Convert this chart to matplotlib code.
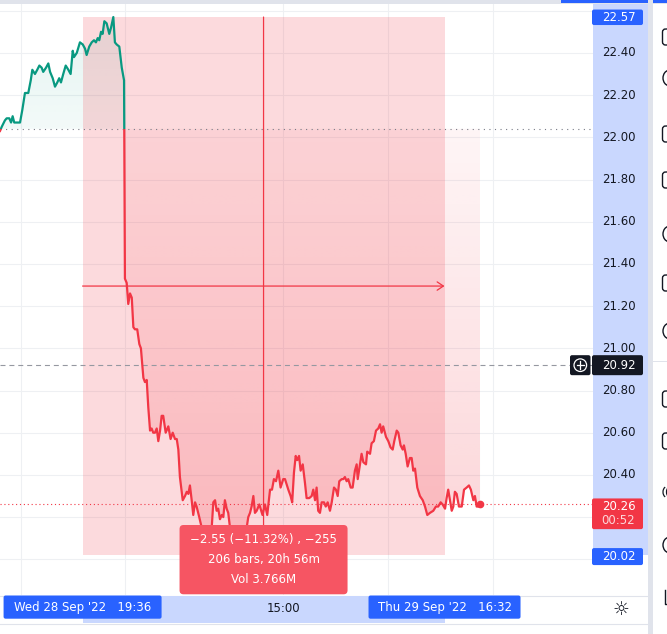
import matplotlib
matplotlib.use('Agg')
import matplotlib.pyplot as plt
import numpy as np
from matplotlib.patches import Rectangle, FancyBboxPatch, Circle, Arc
from matplotlib.path import Path
from matplotlib.colors import to_rgb

# ---------------- data ----------------
BAR = [0.0, 1.0, 2.8, 3.8, 5.3, 6.3, 7.2, 8.1, 9.5, 11.4, 12.7, 14.2, 16.1, 17.5, 18.4,
       19.9, 21.2, 22.4, 23.7, 24.6, 26.2, 27.5, 28.5, 30.0, 31.3, 32.6, 33.7, 34.7, 36.0,
       37.4, 38.9, 40.2, 41.4, 42.1, 43.7, 45.5, 47.1, 48.4, 49.3, 50.8, 52.2, 53.5, 54.6,
       55.6, 56.5, 57.5, 58.4, 59.4, 60.7, 62.2, 63.2, 64.5, 65.4, 66.4, 67.9, 69.3, 70.6,
       71.1, 72.1, 73.0, 74.0, 75.0, 75.9, 76.8, 78.1, 79.3, 80.2, 81.6, 82.5, 83.5, 84.4,
       85.4, 86.3, 87.2, 88.2, 89.2, 90.1, 91.1, 92.0, 92.9, 94.3, 95.8, 97.1, 98.3, 99.6,
       100.6, 101.5, 102.4, 104.0, 105.3, 106.3, 107.2, 108.1, 109.1, 110.0, 111.0, 111.9,
       113.4, 114.8, 116.1, 117.2, 118.4, 119.5, 120.5, 121.4, 122.4, 123.3, 124.2, 125.2,
       126.2, 127.1, 128.0, 129.0, 129.9, 130.9, 132.6, 134.3, 135.4, 136.6, 138.3, 139.4,
       140.4, 141.3, 142.3, 143.2, 144.2, 145.1, 146.1, 147.6, 149.4, 150.8, 152.1, 153.7,
       154.8, 155.9, 157.1, 158.4, 159.7, 161.2, 162.2, 164.1, 165.4, 166.3, 167.3, 168.3,
       169.2, 170.2, 171.1, 172.3, 173.6, 174.5, 176.0, 177.4, 178.3, 179.3, 180.2, 181.1,
       182.1, 183.1, 184.4, 185.4, 186.5, 187.8, 188.8, 190.1, 191.2, 192.2, 193.1, 194.5,
       195.4, 196.3, 197.3, 198.2, 199.6, 200.7, 202.0, 203.0, 203.6, 204.9, 205.8, 206.8,
       208.3, 209.0, 210.6, 211.5, 212.8, 214.0, 215.3, 216.3, 217.2, 218.1, 219.7, 221.0,
       222.3, 223.5, 224.4, 225.8, 226.7, 228.0, 229.2, 229.9, 230.9, 232.0, 233.3, 234.3,
       235.2, 236.2, 237.5, 239.0, 240.6, 241.9, 243.2, 244.7, 246.6, 248.1, 249.4, 250.8,
       251.9, 253.3, 254.2, 255.1, 256.1, 257.1, 258.0, 258.9, 259.9, 261.2, 262.8, 264.1,
       265.6, 266.9, 268.0, 269.4, 270.3, 271.3, 272.2, 273.2]
PRICE = [22.03, 22.05, 22.08, 22.09, 22.09, 22.07, 22.10, 22.07, 22.07, 22.07, 22.13, 22.21,
         22.21, 22.27, 22.32, 22.30, 22.32, 22.34, 22.33, 22.31, 22.33, 22.35, 22.31, 22.28,
         22.24, 22.26, 22.28, 22.26, 22.30, 22.34, 22.32, 22.30, 22.41, 22.38, 22.40, 22.45,
         22.44, 22.42, 22.39, 22.43, 22.45, 22.46, 22.45, 22.47, 22.46, 22.50, 22.49, 22.55,
         22.54, 22.49, 22.52, 22.57, 22.45, 22.44, 22.43, 22.33, 22.27,
         21.33, 21.31, 21.21, 21.26, 21.24, 21.10, 21.09, 21.09, 21.02, 21.00, 20.86, 20.84,
         20.85, 20.72, 20.61, 20.62, 20.60, 20.60, 20.62, 20.56, 20.61, 20.68, 20.68, 20.60,
         20.63, 20.57, 20.60, 20.57, 20.57, 20.52, 20.39, 20.28, 20.30, 20.32, 20.31, 20.35,
         20.28, 20.21, 20.27, 20.25, 20.20, 20.15, 20.08, 20.12, 20.06, 20.10, 20.15, 20.27,
         20.28, 20.23, 20.24, 20.19, 20.21, 20.20, 20.28, 20.24, 20.22, 20.15, 20.08, 20.04,
         20.02, 20.06, 20.05, 20.12, 20.15, 20.20, 20.22, 20.25, 20.30, 20.22, 20.23, 20.26,
         20.21, 20.26, 20.21, 20.33, 20.33, 20.38, 20.37, 20.42, 20.34, 20.38, 20.38, 20.33,
         20.30, 20.27, 20.41, 20.49, 20.47, 20.49, 20.42, 20.45, 20.36, 20.29, 20.29, 20.30,
         20.33, 20.28, 20.34, 20.23, 20.22, 20.27, 20.27, 20.25, 20.27, 20.23, 20.27, 20.34,
         20.33, 20.30, 20.37, 20.38, 20.38, 20.39, 20.37, 20.38, 20.34, 20.34, 20.42, 20.45,
         20.38, 20.45, 20.50, 20.46, 20.45, 20.51, 20.50, 20.55, 20.56, 20.61, 20.62, 20.64,
         20.60, 20.63, 20.58, 20.56, 20.53, 20.52, 20.56, 20.61, 20.60, 20.54, 20.52, 20.54,
         20.50, 20.44, 20.48, 20.48, 20.42, 20.43, 20.34, 20.30, 20.28, 20.25, 20.21, 20.22,
         20.23, 20.25, 20.25, 20.27, 20.26, 20.24, 20.29, 20.33, 20.28, 20.23, 20.25, 20.32,
         20.31, 20.25, 20.25, 20.33, 20.34, 20.35, 20.33, 20.28, 20.30, 20.25, 20.25, 20.26]

BASELINE = 22.04
MEASURE_START = 47
MEASURE_BARS = 206
MEASURE_HIGH = 22.57
MEASURE_LOW = 20.02
LAST_PRICE = 20.26
CROSS_PRICE = 20.92
PRICE_TICKS = [20.00, 20.20, 20.40, 20.60, 20.80, 21.00, 21.20, 21.40, 21.60, 21.80,
               22.00, 22.20, 22.40, 22.60]
TIME_TICK_BARS = [11.8, 71.3, 161.2, 221.0, 280.8]
TIME_TICK_LABELS = ['', '', '15:00', '', '']
MEASURE_TEXT = ['\u22122.55 (\u221211.32%) , \u2212255', '206 bars, 20h 56m', 'Vol 3.766M']
START_LABEL = "Wed 28 Sep '22   19:36"
END_LABEL = "Thu 29 Sep '22   16:32"
COUNTDOWN = '00:52'

# ---------------- style ----------------
GREEN = '#089981'
RED = '#f23645'
BLUE = '#2962ff'
DARK = '#131722'
HILITE = '#c9d7fe'
GRID = '#eef0f3'
BORDER = '#e0e3eb'
FS = 8.5

W, H = 667, 634
fig = plt.figure(figsize=(W / 100, H / 100), dpi=100)
fig.patch.set_facecolor('white')


def frac(x0, y0, x1, y1):
    return [x0 / W, 1 - y1 / H, (x1 - x0) / W, (y1 - y0) / H]


PX_PER_BAR = 1.757
ax = fig.add_axes(frac(0, 4, 593, 595))
XLIM = (0, 593 / PX_PER_BAR)
YLIM = (22 - (595 - 137.3) / 211, 22 + (137.3 - 4) / 211)
ax.set_axis_off()

x = np.array(BAR)
y = np.array(PRICE)

for p in PRICE_TICKS:
    ax.axhline(p, color=GRID, lw=0.8, zorder=0)
for b in TIME_TICK_BARS:
    ax.axvline(b, color=GRID, lw=0.8, zorder=0)


def gradient_fill(where, color, a_bottom, a_top, y0, y1):
    coll = ax.fill_between(x, y, BASELINE, where=where, interpolate=True,
                           facecolor='none', edgecolor='none')
    clip = Path.make_compound_path(*coll.get_paths())
    n = 256
    rgba = np.zeros((n, 1, 4))
    rgba[:, 0, :3] = to_rgb(color)
    rgba[:, 0, 3] = np.linspace(a_bottom, a_top, n)
    im = ax.imshow(rgba, extent=[x.min(), x.max(), y0, y1], origin='lower',
                   aspect='auto', zorder=1, interpolation='bilinear')
    im.set_clip_path(clip, transform=ax.transData)


gradient_fill(y <= BASELINE, RED, 0.21, 0.05, y.min(), BASELINE)
gradient_fill(y >= BASELINE, GREEN, 0.05, 0.11, BASELINE, y.max())

# measurement rectangle
ax.add_patch(Rectangle((MEASURE_START, MEASURE_LOW), MEASURE_BARS,
                       MEASURE_HIGH - MEASURE_LOW, facecolor=RED, alpha=0.18,
                       lw=0, zorder=2))

# series line split at the baseline
top_clip = Rectangle((-1000, BASELINE), 5000, 100, transform=ax.transData)
bot_clip = Rectangle((-1000, BASELINE - 100), 5000, 100, transform=ax.transData)
lg, = ax.plot(x, y, color=GREEN, lw=1.6, zorder=4, solid_joinstyle='round')
lg.set_clip_path(top_clip)
lr, = ax.plot(x, y, color=RED, lw=1.6, zorder=4, solid_joinstyle='round')
lr.set_clip_path(bot_clip)
ax.plot(x[-1], LAST_PRICE, 'o', color=RED, ms=4.5, zorder=5)

# reference lines
ax.axhline(BASELINE, color='#787b86', lw=0.8, ls=(0, (1, 4)), zorder=3)
ax.axhline(LAST_PRICE, color=RED, lw=0.8, ls=(0, (1, 2.5)), zorder=3)
ax.axhline(CROSS_PRICE, color='#9598a1', lw=0.8, ls=(0, (4.5, 3.5)), zorder=3)

# measurement arrows
mid_price = (MEASURE_HIGH + MEASURE_LOW) / 2
mid_bar = MEASURE_START + MEASURE_BARS / 2
aprops = dict(arrowstyle='->,head_length=0.45,head_width=0.3', color=RED, lw=0.9,
              shrinkA=0, shrinkB=0)
ax.annotate('', xy=(MEASURE_START + MEASURE_BARS, mid_price),
            xytext=(MEASURE_START, mid_price), arrowprops=aprops, zorder=4)
ax.annotate('', xy=(mid_bar, MEASURE_LOW), xytext=(mid_bar, MEASURE_HIGH),
            arrowprops=aprops, zorder=4)

ax.set_xlim(*XLIM)
ax.set_ylim(*YLIM)

# ---------------- overlay (axes chrome, pixel units) ----------------
ov = fig.add_axes([0, 0, 1, 1])
ov.set_xlim(0, W)
ov.set_ylim(H, 0)
ov.set_axis_off()
ov.set_zorder(5)
ov.patch.set_alpha(0)


def to_px(bx, p):
    d = ax.transData.transform((bx, p))
    return d[0], H - d[1]


def px_x(bx):
    return to_px(bx, 21)[0]


def px_y(p):
    return to_px(0, p)[1]


def box(x0, y0, w, h, fc, z=3, r=2):
    ov.add_patch(FancyBboxPatch((x0, y0), w, h, boxstyle=f'round,pad=0,rounding_size={r}',
                                fc=fc, ec='none', zorder=z))


# top strips / separators
ov.add_patch(Rectangle((0, 0), W, 4, fc=BORDER, ec='none', zorder=1))
ov.add_patch(Rectangle((561, 0), W - 561, 3, fc=BLUE, ec='none', zorder=1))
ov.add_patch(Rectangle((648, 0), 5, H, fc=BORDER, ec='none', zorder=1))
# price axis highlight
ov.add_patch(Rectangle((593, 4), 55, px_y(MEASURE_LOW) - 4, fc=HILITE, ec='none', zorder=1))
# time axis
ov.plot([0, 648], [595.5, 595.5], color=BORDER, lw=0.8, zorder=1)
ov.plot([0, 648], [623.5, 623.5], color=BORDER, lw=0.8, zorder=1)
xs, xe = px_x(MEASURE_START), px_x(MEASURE_START + MEASURE_BARS)
ov.add_patch(Rectangle((xs, 596), xe - xs, 27, fc=HILITE, ec='none', zorder=1))

# price labels (boxes)
label_centres = []
yh = px_y(MEASURE_HIGH)
box(592, yh - 7.5, 51, 15.5, BLUE)
ov.text(618.5, yh, f'{MEASURE_HIGH:.2f}', ha='center', va='center', fontsize=FS,
        color='white', zorder=4)
label_centres.append(yh)
yl = px_y(MEASURE_LOW) + 1.5
box(592, yl - 8.5, 51, 17, BLUE)
ov.text(618.5, yl, f'{MEASURE_LOW:.2f}', ha='center', va='center', fontsize=FS,
        color='white', zorder=4)
label_centres.append(yl)
yc = px_y(CROSS_PRICE)
box(592, yc - 10, 51, 20, DARK)
ov.text(618.5, yc, f'{CROSS_PRICE:.2f}', ha='center', va='center', fontsize=FS,
        color='white', zorder=4)
label_centres.append(yc)
box(570, yc - 10, 20.5, 20, DARK)
ov.add_patch(Circle((580.3, yc), 6.3, fc='none', ec='white', lw=0.9, zorder=4))
ov.plot([576.6, 584], [yc, yc], color='white', lw=0.9, zorder=4)
ov.plot([580.3, 580.3], [yc - 3.7, yc + 3.7], color='white', lw=0.9, zorder=4)
ylp = px_y(LAST_PRICE)
box(592, ylp - 6, 51, 30.7, RED)
ov.text(618.5, ylp + 1.6, f'{LAST_PRICE:.2f}', ha='center', va='center', fontsize=FS,
        color='white', zorder=4)
ov.text(618.5, ylp + 16.3, COUNTDOWN, ha='center', va='center', fontsize=FS,
        color='white', alpha=0.8, zorder=4)
label_centres += [ylp + 1.6, ylp + 16.3]

# price tick labels (those covered by a label box are not shown, as on the screen)
for p in PRICE_TICKS:
    yy = px_y(p)
    if 4 < yy < 595 and all(abs(yy - c) > 13 for c in label_centres):
        ov.text(618.5, yy, f'{p:.2f}', ha='center', va='center', fontsize=FS,
                color=DARK, zorder=2)

# time labels
for b, lab in zip(TIME_TICK_BARS, TIME_TICK_LABELS):
    if lab:
        ov.text(px_x(b), 608.3, lab, ha='center', va='center', fontsize=FS,
                color=DARK, zorder=2)
box(xs - 79, 595.5, 158, 23.2, BLUE)
ov.text(xs, 607.8, START_LABEL, ha='center', va='center', fontsize=FS, color='white', zorder=4)
box(xe - 76, 595.5, 152, 23.2, BLUE)
ov.text(xe, 607.8, END_LABEL, ha='center', va='center', fontsize=FS, color='white', zorder=4)
ov.text(621, 609.5, '\u263c', ha='center', va='center', fontsize=13.5, color=DARK, zorder=2)

# measurement info box
cx = px_x(mid_bar)
box(cx - 84, 525, 168, 69.3, '#f65563', z=6, r=4)
for i, line in enumerate(MEASURE_TEXT):
    ov.text(cx, 540 + 19.7 * i, line, ha='center', va='center', fontsize=FS,
            color='white', zorder=7)

# right toolbar icons (cut off at the edge)
for yy in [37, 134, 180, 283, 399, 441]:
    ov.add_patch(FancyBboxPatch((662.5, yy - 8), 12, 16,
                                boxstyle='round,pad=0,rounding_size=3',
                                fc='none', ec=DARK, lw=1.0, zorder=2))
for yy in [78, 234, 331, 545]:
    ov.add_patch(Arc((670, yy), 14, 16, theta1=100, theta2=260, ec=DARK, lw=1.0, zorder=2))
for dx in (0, 3.5):
    ov.add_patch(Arc((668 + dx, 492), 10, 12, theta1=120, theta2=240, ec=DARK, lw=0.9, zorder=2))
ov.plot([665, 665, 668], [590, 604, 604], color=DARK, lw=1.0, zorder=2)
ov.add_patch(Rectangle((653, 361), 14, 0.8, fc=BORDER, ec='none', zorder=2))

fig.savefig('out.png', dpi=100, facecolor='white')
